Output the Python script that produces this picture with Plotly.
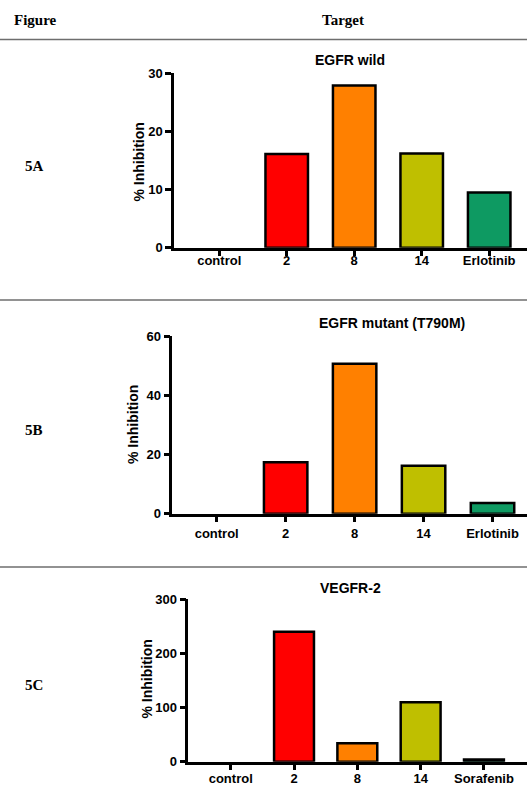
import plotly.graph_objects as go

# ---- data ----
cats_egfr = ["control", "2", "8", "14", "Erlotinib"]
cats_vegfr = ["control", "2", "8", "14", "Sorafenib"]
egfr_wild = [0, 16.1, 27.9, 16.2, 9.5]
egfr_mut = [0, 17.4, 50.6, 16.2, 3.6]
vegfr2 = [0, 240, 34, 110, 4]
bar_colors = ["#ffffff", "#ff0000", "#ff8000", "#bfbf00", "#0e9a62"]
outline_widths = [0, 2.5, 2.5, 2.5, 2.5]
panel_titles = ["EGFR wild", "EGFR mutant (T790M)", "VEGFR-2"]
panel_labels = ["5A", "5B", "5C"]
yticks_a = [0, 10, 20, 30]
yticks_b = [0, 20, 40, 60]
yticks_c = [0, 100, 200, 300]

W, H = 527, 785
def px(x):
    return x / W
def py(y):
    return 1 - y / H

SANS = "Liberation Sans"
SERIF = "Liberation Serif"

fig = go.Figure()

panels = [
    dict(cats=cats_egfr, vals=egfr_wild, xd=[px(174), 1.0], yd=[py(247.7), py(73.3)],
         xr=[-0.67, 4.56], yr=[0, 30], yt=yticks_a, suffix="", xso=-7),
    dict(cats=cats_egfr, vals=egfr_mut, xd=[px(172.3), 1.0], yd=[py(513.7), py(336)],
         xr=[-0.644, 4.5], yr=[0, 60], yt=yticks_b, suffix="2", xso=0),
    dict(cats=cats_vegfr, vals=vegfr2, xd=[px(188.3), 1.0], yd=[py(761.7), py(599.3)],
         xr=[-0.67, 4.68], yr=[0, 300], yt=yticks_c, suffix="3", xso=-3),
]

for i, p in enumerate(panels):
    s = p["suffix"]
    fig.add_trace(go.Bar(
        x=p["cats"], y=p["vals"],
        marker=dict(color=bar_colors, line=dict(color="black", width=outline_widths)),
        width=0.63,
        xaxis="x" + s, yaxis="y" + s, showlegend=False, cliponaxis=False,
    ))
    axis_common = dict(showgrid=False, zeroline=False, showline=True, linecolor="black",
                       linewidth=2.5, ticks="outside", ticklen=6, tickwidth=2.5,
                       tickcolor="black", automargin=False,
                       tickfont=dict(family=SANS, size=13, color="black", weight="bold"))
    fig.layout["xaxis" + s] = dict(domain=p["xd"], anchor="y" + s, type="category",
                                   range=p["xr"], ticklabelstandoff=p["xso"], **axis_common)
    fig.layout["yaxis" + s] = dict(domain=p["yd"], anchor="x" + s, range=p["yr"],
                                   tickvals=p["yt"], **axis_common)

# panel titles
title_pos = [(350, 60), (392, 323), (350, 588)]
for t, (x, y) in zip(panel_titles, title_pos):
    fig.add_annotation(x=px(x), y=py(y), xref="paper", yref="paper", text=t,
                       showarrow=False, xanchor="center", yanchor="middle",
                       font=dict(family=SANS, size=14, color="black", weight="bold"))

# y axis titles
ytitle_pos = [(138.5, 162), (133, 425), (146.5, 679)]
for (x, y) in ytitle_pos:
    fig.add_annotation(x=px(x), y=py(y), xref="paper", yref="paper", text="% Inhibition",
                       textangle=-90, showarrow=False, xanchor="center", yanchor="middle",
                       font=dict(family=SANS, size=14, color="black", weight="bold"))

# row labels
label_pos = [(34, 166), (34, 430), (34, 685)]
for t, (x, y) in zip(panel_labels, label_pos):
    fig.add_annotation(x=px(x), y=py(y), xref="paper", yref="paper", text=t,
                       showarrow=False, xanchor="center", yanchor="middle",
                       font=dict(family=SERIF, size=15, color="black", weight="bold"))

# header
fig.add_annotation(x=px(12), y=py(20.5), xref="paper", yref="paper", text="Figure",
                   showarrow=False, xanchor="left", yanchor="middle",
                   font=dict(family=SERIF, size=15, color="black", weight="bold"))
fig.add_annotation(x=px(343), y=py(20.5), xref="paper", yref="paper", text="Target",
                   showarrow=False, xanchor="center", yanchor="middle",
                   font=dict(family=SERIF, size=15, color="black", weight="bold"))

# separator lines
for y in [39.5, 300, 567]:
    fig.add_shape(type="line", xref="paper", yref="paper", x0=0, x1=1,
                  y0=py(y), y1=py(y), line=dict(color="#6e6e6e", width=1.5))

fig.update_layout(width=W, height=H, margin=dict(l=0, r=0, t=0, b=0, autoexpand=False),
                  paper_bgcolor="white", plot_bgcolor="white", bargap=0.37)

post = (
    "document.body.style.margin='0';document.body.style.padding='0';"
    "document.body.style.overflow='hidden';document.documentElement.style.overflow='hidden';"
)
fig.write_html("out.html", config={"displayModeBar": False}, post_script=post)
